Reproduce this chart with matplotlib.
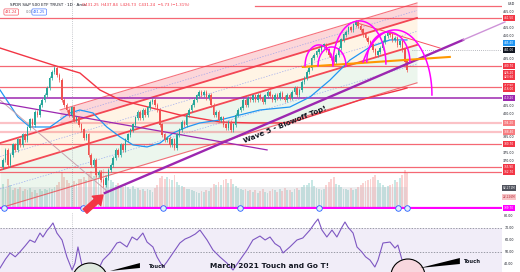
import numpy as np
import matplotlib.pyplot as plt
from matplotlib.patches import Ellipse, Polygon

# ---------------------------------------------------------------------------
# values (x = bar index, y = price in USD)
# ---------------------------------------------------------------------------
first_open = 366.0
close = [
    370.4, 376.8, 367.2, 373.6, 380.1, 376.8, 383.3, 380.1, 386.5, 383.3,
    391.0, 396.1, 392.9, 401.2, 399.3, 405.7, 408.9, 412.1, 416.6, 423.0,
    426.8, 429.4, 424.9, 421.7, 408.9, 405.7, 402.5, 399.3, 403.8, 396.1,
    397.4, 392.9, 389.7, 384.5, 386.5, 373.6, 367.2, 370.4, 360.8, 362.7,
    357.6, 354.4, 358.9, 364.0, 367.2, 371.7, 376.8, 373.6, 380.1, 376.8,
    383.3, 386.5, 389.7, 392.9, 397.4, 401.2, 397.4, 402.5, 399.3, 403.8,
    407.6, 408.9, 405.7, 402.5, 392.9, 386.5, 383.3, 384.5, 380.1, 383.3,
    378.1, 386.5, 389.7, 394.8, 392.9, 399.3, 402.5, 405.7, 408.9, 411.5,
    414.0, 412.1, 414.0, 410.2, 412.1, 405.7, 399.3, 401.2, 396.1, 397.4,
    392.9, 391.0, 394.8, 389.7, 392.9, 399.3, 402.5, 403.8, 408.9, 405.7,
    410.2, 408.9, 411.5, 408.9, 412.1, 410.2, 407.6, 411.5, 414.0, 411.5,
    408.9, 412.1, 410.2, 413.4, 410.8, 408.9, 412.1, 410.2, 414.0, 416.6,
    412.1, 415.3, 420.4, 423.0, 426.8, 429.4, 435.8, 437.7, 439.7, 441.0,
    442.9, 444.2, 441.0, 437.7, 435.8, 433.3, 437.7, 442.2, 447.4, 450.6,
    452.5, 455.1, 453.8, 457.0, 458.9, 456.3, 453.8, 450.6, 448.6, 446.1,
    444.2, 441.0, 437.7, 439.7, 442.2, 446.1, 449.9, 451.8, 450.6, 447.4,
    448.6, 444.2, 446.1, 441.0, 433.3, 428.1]

volume = [  # millions
    75, 60, 88, 70, 55, 62, 58, 66, 52, 60, 57, 63, 50, 55, 48, 58, 52, 60, 55, 62,
    58, 65, 72, 80, 110, 95, 85, 78, 70, 82, 76, 88, 90, 95, 85, 105, 112, 98, 118, 102,
    115, 120, 100, 92, 85, 80, 72, 78, 70, 66, 72, 64, 60, 68, 58, 62, 55, 60, 52, 58,
    55, 50, 62, 70, 92, 98, 88, 95, 90, 85, 100, 80, 72, 68, 65, 60, 58, 55, 52, 50,
    48, 52, 50, 55, 53, 62, 75, 70, 80, 72, 85, 90, 78, 88, 75, 68, 62, 58, 55, 60,
    52, 55, 50, 56, 48, 52, 58, 50, 47, 53, 60, 55, 50, 58, 52, 62, 55, 57, 50, 58,
    62, 55, 65, 70, 72, 78, 85, 68, 62, 58, 55, 60, 72, 80, 88, 95, 75, 70, 65, 60,
    58, 55, 62, 57, 60, 65, 72, 78, 82, 85, 90, 95, 100, 85, 78, 70, 65, 68, 72, 75,
    85, 80, 92, 100, 115, 108]

blue_ma_x = [-1.2, 6.1, 11.0, 19.2, 27.3, 31.4, 36.7, 42.4, 47.8, 53.1, 58.8, 64.1, 69.4,
             75.1, 80.4, 88.6, 96.7, 104.9, 117.1, 125.3, 133.5, 141.6, 149.8, 158.0, 164.9]
blue_ma_p = [415.3, 398.0, 391.6, 391.6, 400.6, 402.5, 400.6, 391.6, 385.2, 380.1, 378.8,
             381.3, 387.7, 391.6, 394.2, 396.1, 399.3, 402.5, 404.4, 410.8, 421.7, 434.5,
             442.9, 447.4, 447.4]
red_ma_x = [-1.2, 20.4, 31.4, 39.6, 47.8, 55.9, 72.2, 88.6, 100.8, 117.1, 133.5, 145.7, 162.0, 164.9]
red_ma_p = [442.2, 431.3, 426.2, 415.3, 408.9, 405.7, 399.3, 394.8, 394.2, 394.2, 402.5,
            408.9, 415.3, 416.6]

# parallel channel: (start bar, start price, end bar, end price)
chan_top = (23.3, 402.5, 169.0, 471.1)
chan_upper = (-1.2, 381.3, 169.0, 461.5)
chan_mid = (-1.2, 364.0, 169.0, 444.2)
chan_low = (-1.2, 339.7, 169.0, 419.9)
chan_dots = [(23.3, 397.7, 169.0, 466.3), (-1.2, 372.7, 169.0, 452.9), (-1.2, 351.9, 169.0, 432.0)]

level_prices = [469.2, 461.5, 430.7, 417.2, 394.2, 388.4, 380.7, 365.9, 362.7]
level_starts = [102.9, -1.2, -1.2, -1.2, -1.2, -1.2, -1.2, -1.2, -1.2]
purple_level = 410.2
magenta_level = 339.7
handle_bars = [0.4, 32.7, 65.3, 96.7, 129.0, 161.2, 164.9]

purple_down = (-1.2, 407.0, 107.8, 376.9)
purple_up = (41.6, 349.3, 187.8, 447.4)
purple_up_ext = (187.8, 447.4, 204.9, 458.9)
gray_diag = (-1.2, 408.9, 42.9, 349.9)
orange_neck = (122.4, 430.1, 182.4, 436.5)
red_from_top = (144.5, 458.3, 178.4, 442.2)

# arcs: centre bar, base price, half width (bars), height (price), start/end angle
arcs = [(129.0, 430.7, 5.7, 13.5, 0, 180), (134.3, 430.7, 5.7, 12.2, 0, 180),
        (145.5, 432.0, 10.8, 27.6, 0, 180), (157.3, 433.3, 8.8, 19.2, 0, 180),
        (160.0, 412.1, 15.1, 41.7, 0, 149.5)]

tick_prices = list(range(340, 466, 5))
tag_prices = [461.5, 445.4, 441.0, 430.7, 426.2, 423.6, 417.9, 416.0, 410.2, 394.2, 388.4,
              380.7, 365.9, 362.7, 339.7]
tag_colors = ['#f23645', '#2196f3', '#131722', '#f23645', '#f23645', '#f23645', '#f23645',
              '#f23645', '#9c27b0', '#f77c80', '#f77c80', '#f23645', '#f23645', '#f23645',
              '#ff00ff']
vol_tags = [(352.5, '82.271M', '#50535e', 'white'), (346.7, '22.226M', '#f8c5c8', '#b22833')]

rsi_x = [-1.2, 1.0, 2.9, 5.0, 6.9, 9.0, 11.0, 13.0, 15.1, 16.3, 18.0, 19.2, 20.4, 22.0, 24.1,
         26.1, 28.2, 29.4, 30.6, 32.2, 34.3, 36.3, 38.4, 40.8, 43.7, 46.5, 47.8, 50.6, 52.7,
         54.7, 57.1, 58.8, 61.2, 62.9, 65.3, 66.9, 69.4, 72.2, 74.3, 76.3, 78.5, 80.4, 83.3,
         85.7, 88.6, 91.4, 93.9, 96.7, 99.6, 102.0, 104.9, 107.0, 109.0, 111.0, 113.1, 114.3,
         117.1, 120.0, 122.4, 125.3, 127.3, 128.6, 130.2, 132.2, 134.3, 136.3, 138.4, 139.6,
         140.8, 142.9, 144.5, 146.5, 148.0, 149.8, 151.8, 153.1, 155.1, 158.0, 160.0, 161.2,
         162.9, 164.1, 164.9]
rsi_v = [36.7, 44.0, 49.2, 46.0, 50.0, 55.0, 60.0, 58.0, 65.8, 62.5, 68.0, 70.8, 74.2, 65.8,
         60.0, 45.8, 35.0, 40.8, 54.2, 39.2, 35.0, 36.7, 33.3, 43.3, 49.2, 57.5, 58.3, 54.2,
         62.5, 60.0, 65.8, 58.3, 54.2, 45.8, 37.5, 41.7, 49.2, 57.5, 60.8, 62.5, 65.0, 68.3,
         60.0, 51.7, 45.8, 40.8, 35.0, 43.3, 51.7, 60.0, 63.3, 60.0, 62.5, 57.0, 54.2, 49.2,
         54.2, 60.0, 61.7, 68.3, 74.2, 77.5, 68.3, 62.5, 68.3, 62.5, 70.8, 75.0, 70.8, 65.8,
         54.2, 50.0, 46.0, 43.3, 37.5, 43.3, 57.5, 58.3, 53.3, 55.8, 43.3, 35.0, 32.5]
rsi_ticks = [80, 70, 60, 50, 40]

# ---------------------------------------------------------------------------
W, H = 520, 272
GREEN, RED = '#26a69a', '#ef5350'
fig = plt.figure(figsize=(5.2, 2.72), dpi=100)
main_rect = [0, 1 - 209 / H, 502 / W, 209 / H]
vax = fig.add_axes(main_rect)
ax = fig.add_axes(main_rect)
rax = fig.add_axes([0, 0, 502 / W, 59 / H])
vax.set_zorder(0); ax.set_zorder(1); ax.patch.set_visible(False)
XL = (-1.224, 203.7)
for a in (vax, ax, rax):
    a.set_xlim(*XL)
    a.set_xticks([]); a.set_yticks([])
    for s in a.spines.values():
        s.set_visible(False)
ax.set_ylim(339.03, 473)
vax.set_ylim(0, 620)
rax.set_ylim(33.33, 82.5)

close = np.array(close)
bars = np.arange(len(close))
opens = np.r_[first_open, close[:-1]]
up = close >= opens
cols = np.where(up, GREEN, RED)

# volume
vax.bar(bars, volume, width=0.75, color=cols, alpha=0.25, linewidth=0)

# channel fills and lines
def seg_at(seg, xs):
    x0, p0, x1, p1 = seg
    return p0 + (p1 - p0) * (np.asarray(xs) - x0) / (x1 - x0)

xa = np.array([23.3, 169.0])
ax.fill_between(xa, seg_at(chan_upper, xa), seg_at(chan_top, xa), color='#f23645', alpha=0.2, lw=0, zorder=1)
xb = np.array([-1.2, 169.0])
ax.fill_between(xb, seg_at(chan_mid, xb), seg_at(chan_upper, xb), color='#ff9800', alpha=0.1, lw=0, zorder=1)
ax.fill_between(xb, seg_at(chan_low, xb), seg_at(chan_mid, xb), color='#4caf50', alpha=0.1, lw=0, zorder=1)
for seg, lw, al in [(chan_top, 0.8, 0.7), (chan_upper, 1.3, 0.9), (chan_mid, 1.3, 0.9), (chan_low, 0.8, 0.7)]:
    ax.plot([seg[0], seg[2]], [seg[1], seg[3]], color='#f23645', lw=lw, alpha=al, zorder=2)
for seg in chan_dots:
    ax.plot([seg[0], seg[2]], [seg[1], seg[3]], color='#7b8ff0', lw=0.5, ls=(0, (2, 2)), alpha=0.7, zorder=2)

# gray band over volume
ax.fill_between([-1.2, 164.9], 339.7, 353.1, color='#b2b5be', alpha=0.22, lw=0, zorder=1)

# horizontal levels
for p, x0 in zip(level_prices, level_starts):
    light = p in (394.2, 388.4)
    ax.plot([x0, XL[1]], [p, p], color='#f23645', lw=1.6 if light else 0.9,
            alpha=0.3 if light else 0.75, zorder=2)
ax.axhline(purple_level, color='#9c27b0', lw=1.1, zorder=2)
ax.axhline(441.0, color='#787b86', lw=0.5, ls=(0, (1, 2)), xmin=0.82, zorder=2)

# moving averages
ax.plot(red_ma_x, red_ma_p, color='#f23645', lw=1.0, zorder=3)
ax.plot(blue_ma_x, blue_ma_p, color='#2196f3', lw=0.9, zorder=3)

# candles
ax.vlines(bars, np.minimum(opens, close) - 1.2, np.maximum(opens, close) + 1.2, color=cols, lw=0.5, zorder=4)
ax.bar(bars, np.abs(close - opens) + 0.3, bottom=np.minimum(opens, close), width=0.62,
       color=cols, lw=0, zorder=4)

# trend lines
ax.plot([gray_diag[0], gray_diag[2]], [gray_diag[1], gray_diag[3]], color='#c7a3b0', lw=0.7, zorder=3)
ax.plot([purple_down[0], purple_down[2]], [purple_down[1], purple_down[3]], color='#9c27b0', lw=0.9, zorder=3)
ax.plot([purple_up[0], purple_up[2]], [purple_up[1], purple_up[3]], color='#9c27b0', lw=1.7, zorder=5)
ax.plot([purple_up_ext[0], purple_up_ext[2]], [purple_up_ext[1], purple_up_ext[3]],
        color='#ce93d8', lw=1.0, zorder=5, clip_on=False)
ax.plot([orange_neck[0], orange_neck[2]], [orange_neck[1], orange_neck[3]], color='#ff9800', lw=1.5, zorder=5)
ax.plot([red_from_top[0], red_from_top[2]], [red_from_top[1], red_from_top[3]], color='#f7525f', lw=0.7, zorder=5)

# arcs
for cx, base, hw, ht, t0, t1 in arcs:
    t = np.radians(np.linspace(t0, t1, 80))
    ax.plot(cx + hw * np.cos(t), base + ht * np.sin(t), color='#ff00ff', lw=1.1, zorder=6)

# magenta level with drawing handles
ax.axhline(magenta_level, color='#ff00ff', lw=1.6, zorder=6)
ax.plot(handle_bars, [magenta_level] * len(handle_bars), 'o', ms=4, mfc='#e3ecfd', mec='#2962ff',
        mew=0.6, zorder=7, clip_on=False)

# dotted crosshair
for a in (ax, rax):
    a.axvline(28.2, color='#9598a1', lw=0.5, ls=(0, (1, 2)), zorder=2)

# red arrow to the low
ax.annotate('', xy=(40.8, 348.0), xytext=(33.5, 337.6), annotation_clip=False,
            arrowprops=dict(arrowstyle='simple,head_length=0.7,head_width=1.0,tail_width=0.45',
                            color='#f23645', shrinkA=0, shrinkB=0, mutation_scale=9), zorder=8)

ax.text(115.1, 392.9, 'Wave 5 - Blowoff Top!', rotation=22, ha='center', va='center',
        fontsize=5.2, fontweight='bold', color='#131722', zorder=8, rotation_mode='anchor')

# price scale (plain ticks are hidden where a coloured tag sits)
yt = ax.get_yaxis_transform()
all_tags = tag_prices + [t[0] for t in vol_tags]
for p in tick_prices:
    if min(abs(p - q) for q in all_tags) < 3.2:
        continue
    ax.text(1.014, p, f'{p:.2f}', transform=yt, ha='center', va='center', fontsize=2.3,
            color='#131722', clip_on=False)
for p, c in zip(tag_prices, tag_colors):
    ax.text(1.014, p, f'{p:.2f}', transform=yt, ha='center', va='center', fontsize=2.1,
            color='white', clip_on=False, zorder=9,
            bbox=dict(boxstyle='square,pad=0.2', fc=c, ec='none'))
for p, txt, fc, tc in vol_tags:
    ax.text(1.014, p, txt, transform=yt, ha='center', va='center', fontsize=2.1, color=tc,
            clip_on=False, zorder=9, bbox=dict(boxstyle='square,pad=0.2', fc=fc, ec='none'))

# header
fig.text(10 / W, 1 - 5 / H, 'SPDR S&P 500 ETF TRUST · 1D · Arca', fontsize=3.0, color='#131722',
         va='center')
fig.text(82 / W, 1 - 5 / H, 'O431.25  H437.84  L426.73  C431.24  −5.73 (−1.31%)', fontsize=2.8,
         color='#f23645', va='center')
fig.text(5 / W, 1 - 12 / H, '431.24', fontsize=2.6, color='#f23645', va='center',
         bbox=dict(boxstyle='round,pad=0.3', fc='white', ec='#f23645', lw=0.4))
fig.text(26 / W, 1 - 12 / H, '0.00', fontsize=2.6, color='#787b86', va='center')
fig.text(33 / W, 1 - 12 / H, '431.25', fontsize=2.6, color='#2962ff', va='center',
         bbox=dict(boxstyle='round,pad=0.3', fc='white', ec='#2962ff', lw=0.4))
fig.text(511 / W, 1 - 4 / H, 'USD', fontsize=2.4, color='#131722', va='center', ha='center')

# RSI pane
rax.axhspan(30, 70, color='#7e57c2', alpha=0.1, lw=0)
for lv in (70, 50, 30):
    rax.axhline(lv, color='#787b86', lw=0.5, ls=(0, (2, 2)))
rax.plot(rsi_x, rsi_v, color='#7e57c2', lw=0.8, zorder=3)
ryt = rax.get_yaxis_transform()
for v in rsi_ticks:
    rax.text(1.014, v, f'{v:.2f}', transform=ryt, ha='center', va='center', fontsize=2.3,
             color='#131722', clip_on=False)

rax.add_patch(Ellipse((35.5, 25.8), 14.7, 30, fc='#dfe9df', ec='black', lw=0.8, zorder=4))
rax.add_patch(Ellipse((165.3, 30.0), 13.9, 28.3, fc='#f8d7de', ec='black', lw=0.8, zorder=4))
rax.add_patch(Polygon([(43.7, 34.2), (55.9, 40.8), (55.9, 36.7)], closed=True, fc='black', ec='none', zorder=5))
rax.add_patch(Polygon([(170.2, 36.7), (186.5, 45.0), (186.5, 40.0)], closed=True, fc='black', ec='none', zorder=5))
rax.text(59.2, 38.3, 'Touch', fontsize=3.8, fontweight='bold', color='#131722', va='center', zorder=6)
rax.text(187.8, 41.7, 'Touch', fontsize=3.8, fontweight='bold', color='#131722', va='center', zorder=6)
rax.text(84.5, 41.2, 'March 2021 Touch and Go T!', fontsize=5.3, fontweight='bold', color='#131722',
         va='top', zorder=6)

fig.savefig('out.png', dpi=100, facecolor='white')
